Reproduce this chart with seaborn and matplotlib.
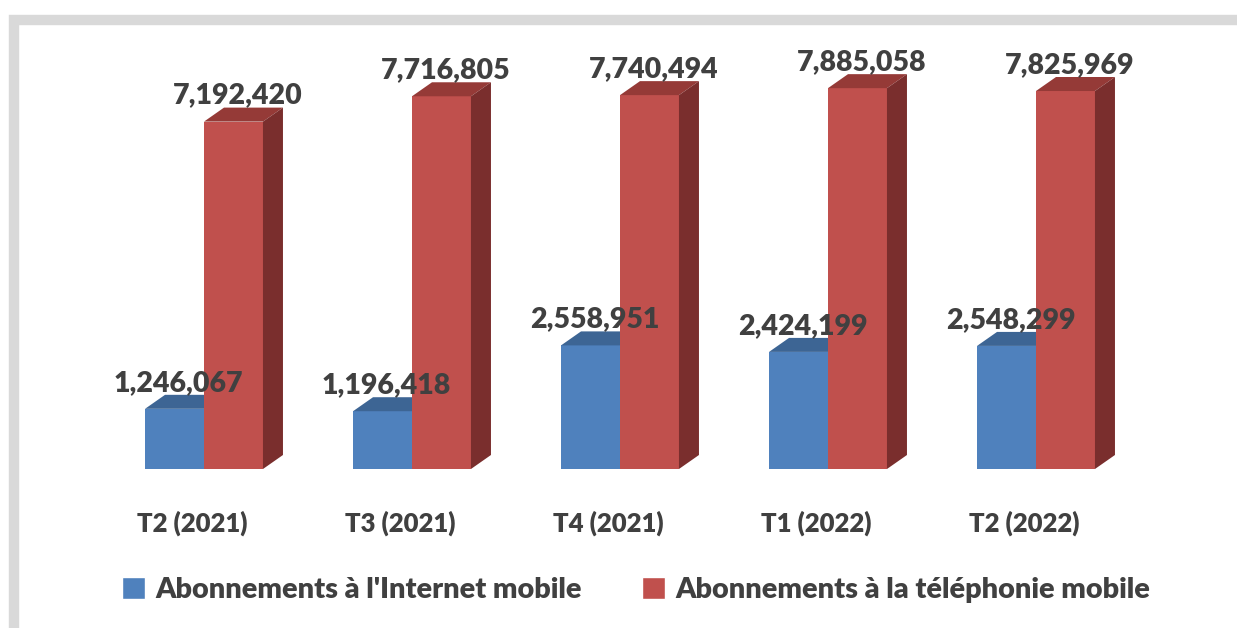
import numpy as np
import pandas as pd
import matplotlib.pyplot as plt
import seaborn as sns
from matplotlib.patches import Polygon, Rectangle, Patch

# -----------------------------------------------
# Data
# -----------------------------------------------
categories = ["T2 (2021)", "T3 (2021)", "T4 (2021)", "T1 (2022)", "T2 (2022)"]
series = ["Abonnements à l'Internet mobile", "Abonnements à la téléphonie mobile"]
internet = [1246067, 1196418, 2558951, 2424199, 2548299]
telephonie = [7192420, 7716805, 7740494, 7885058, 7825969]

front = ["#4F81BD", "#C0504D"]
top = ["#3D6594", "#953A37"]
side = ["#2F4F76", "#7A2E2D"]
txt = "#404040"

df = pd.DataFrame({
    "Trimestre": categories * 2,
    "Série": [series[0]] * 5 + [series[1]] * 5,
    "Valeur": internet + telephonie,
})

sns.set_style("white")
plt.rcParams["font.family"] = ["Lato", "DejaVu Sans"]
WEIGHT = "heavy"

W, H = 1237, 628
fig = plt.figure(figsize=(W / 100, H / 100), dpi=100)

# axes placed in pixels: baseline at y=469, group centres every 208 px starting 204
ax_l, ax_r, ax_b, ax_t = 20, 1230, 469, 25
ax = fig.add_axes([ax_l / W, 1 - ax_b / H, (ax_r - ax_l) / W, (ax_b - ax_t) / H])

sns.barplot(data=df, x="Trimestre", y="Valeur", hue="Série", palette=front,
            width=0.567, saturation=1, legend=False, ax=ax, edgecolor="none")

px_x = 208.0
px_y = 48.3 / 1e6
ax.set_xlim((ax_l - 204) / px_x, (ax_r - 204) / px_x)
ax.set_ylim(0, (ax_b - ax_t) / px_y)
ax.axis("off")

dx = 20 / px_x
dy = 14 / px_y

bars = list(ax.patches)
for p in bars:
    fc = p.get_facecolor()
    k = 0 if abs(fc[2] - 0xBD / 255) < 0.05 else 1
    x0, w, h = p.get_x(), p.get_width(), p.get_height()
    z = 2 + k * 2
    p.set_zorder(z)
    ax.add_patch(Polygon([(x0, h), (x0 + w, h), (x0 + w + dx, h + dy), (x0 + dx, h + dy)],
                         closed=True, facecolor=top[k], edgecolor="none", zorder=z))
    ax.add_patch(Polygon([(x0 + w, 0), (x0 + w + dx, dy), (x0 + w + dx, h + dy), (x0 + w, h)],
                         closed=True, facecolor=side[k], edgecolor="none", zorder=z))
    ax.text(x0 + w / 2 + dx * 0.2, h + dy + 4 / px_y, f"{h:,.0f}", ha="center", va="baseline",
            fontsize=20.5, fontweight=WEIGHT, color=txt, zorder=10)

# category labels
for i, c in enumerate(categories):
    ax.text(i - 12 / px_x, -54 / px_y, c, ha="center", va="center",
            fontsize=18.5, fontweight=WEIGHT, color=txt, clip_on=False)

# legend
handles = [Patch(facecolor=front[0]), Patch(facecolor=front[1])]
fig.legend(handles, series, loc="center", bbox_to_anchor=(636 / W, 1 - 590 / H), ncol=2,
           frameon=False, handlelength=0.8, handleheight=0.8, handletextpad=0.35,
           columnspacing=2.1, prop={"size": 20.8, "weight": WEIGHT}, labelcolor=txt)

# grey chart frame
fig.patches.append(Rectangle((14 / W, -0.2), 1.5, 1.2 - 20 / H, transform=fig.transFigure,
                             fill=False, edgecolor="#D9D9D9", linewidth=7.5, zorder=0))

fig.savefig("out.png", dpi=100)
